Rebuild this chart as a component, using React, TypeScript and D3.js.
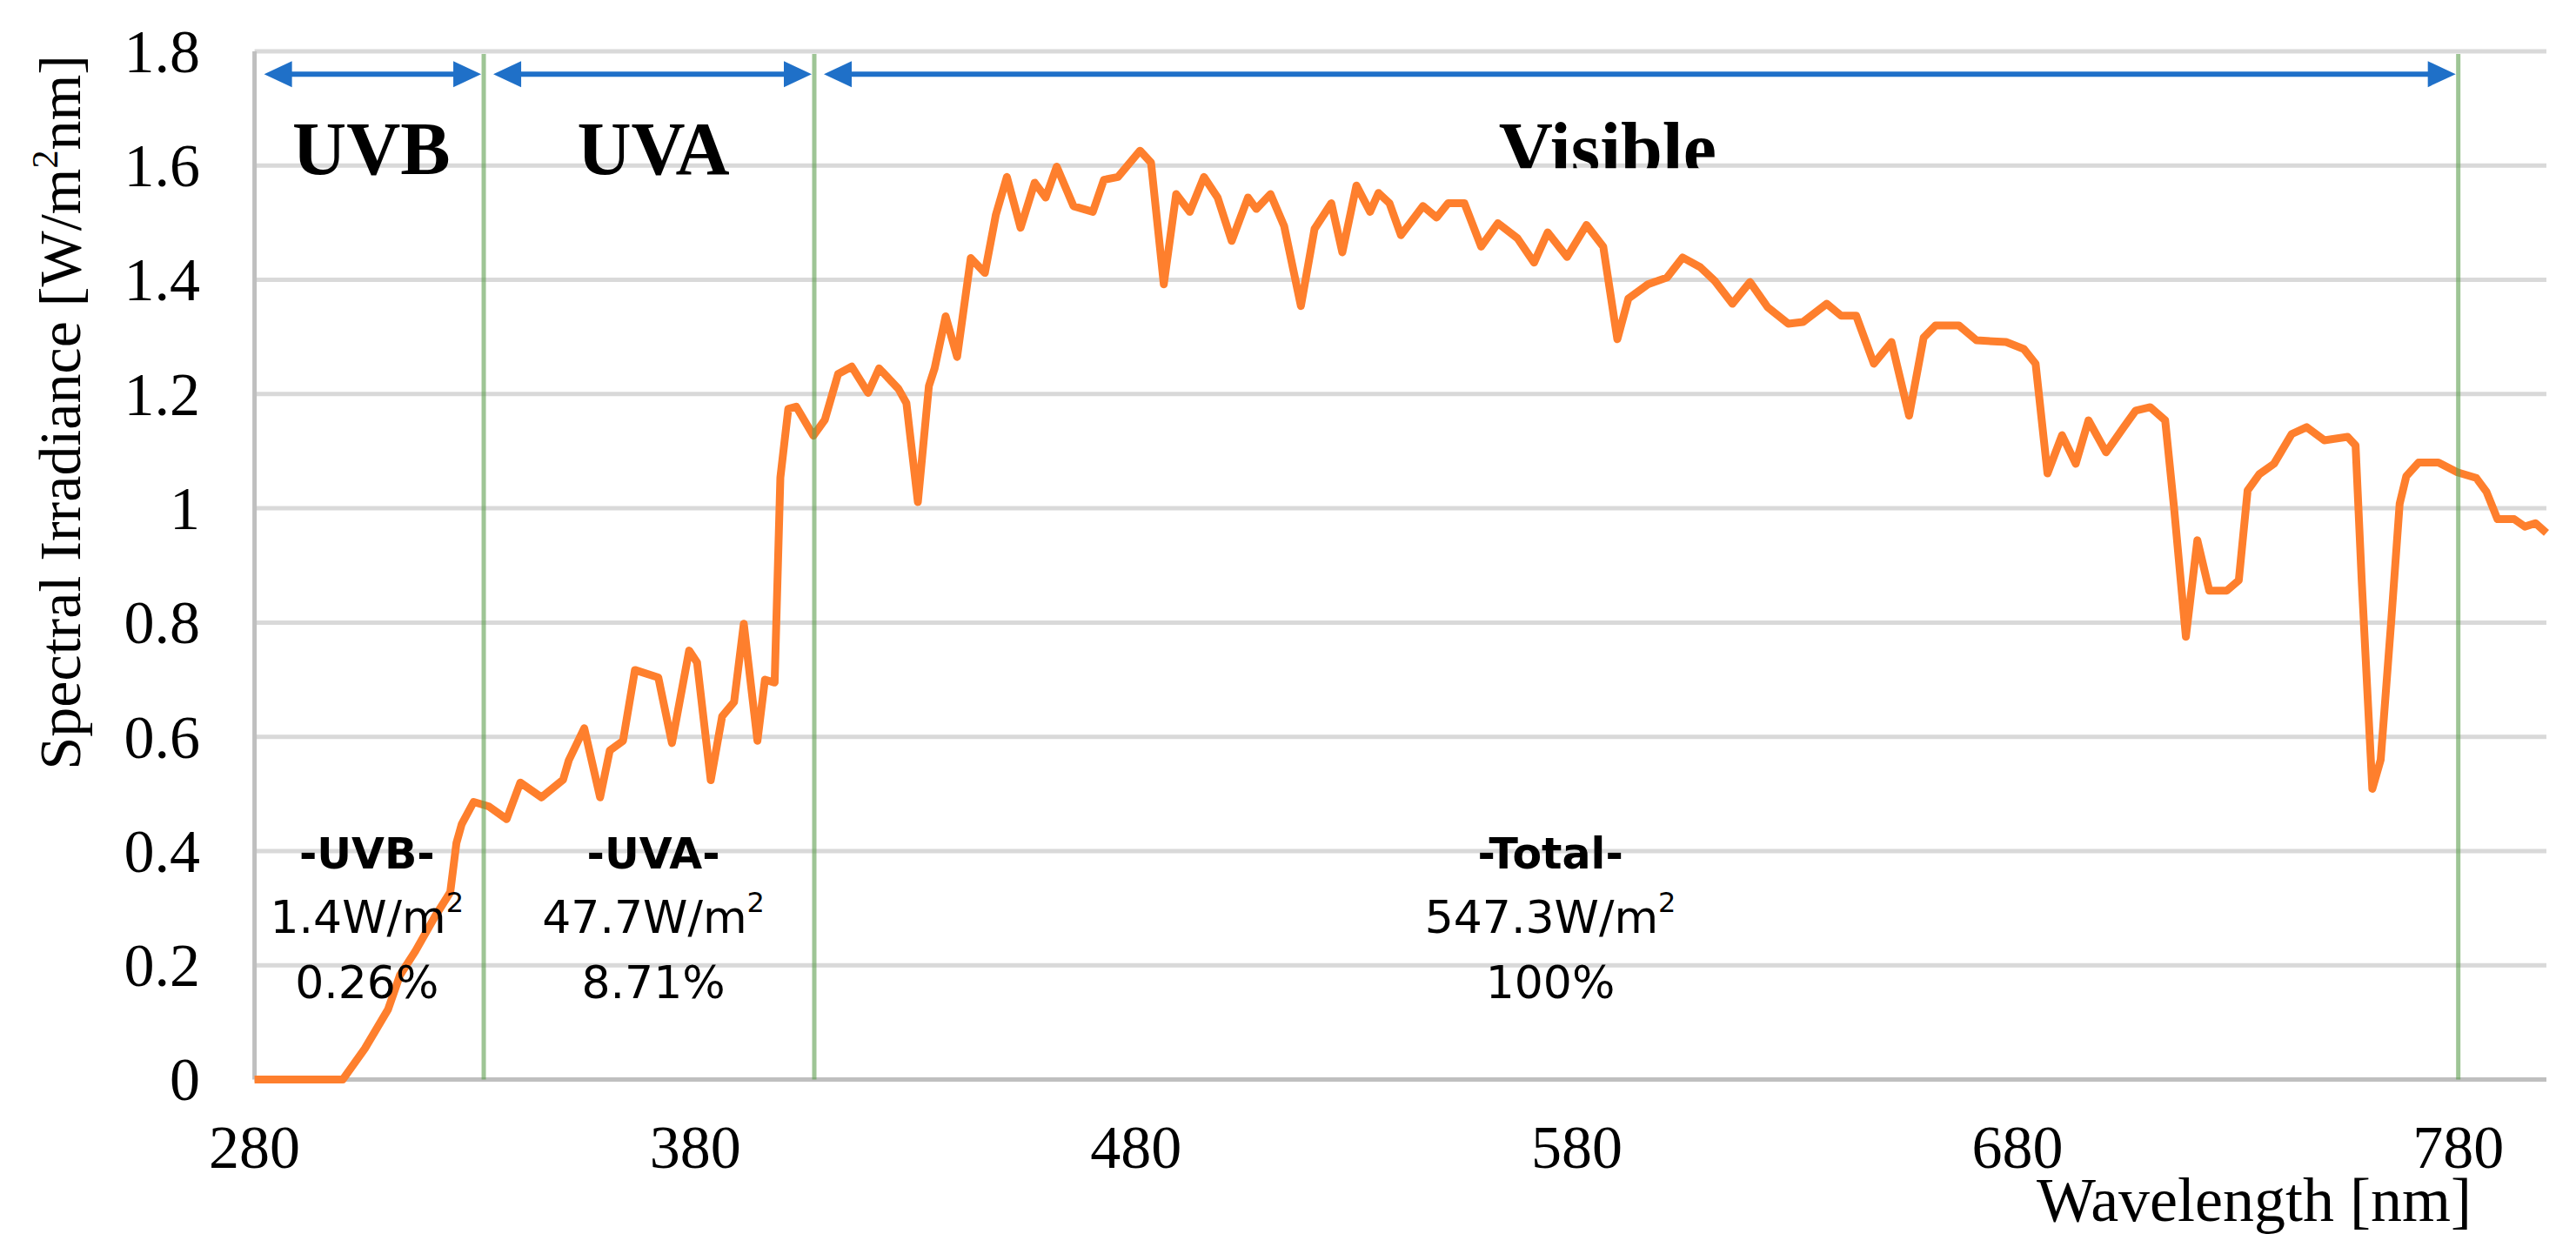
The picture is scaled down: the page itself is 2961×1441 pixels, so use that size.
import * as d3 from "d3"

// spectrum (nm, W/m2nm)
const wavelengths = [
  280, 290, 300, 305, 310.3, 313, 316.5, 320.9, 324.4, 325.8, 327, 329.7, 333.2, 337.2,
  340.3, 345.1, 350, 351.3, 354.8, 358.4, 360.6, 363.6, 366.3, 371.6, 374.7, 378.6,
  380.4, 383.5, 386.1, 388.8, 391, 394.1, 395.8, 398, 399.3, 401.1, 402.9, 406.8,
  409.4, 412.4, 415.5, 419.2, 421.7, 426.1, 427.9, 430.5, 433, 434.3, 436.8, 439.4,
  442.5, 445.7, 448.2, 450.7, 453.8, 457, 459.5, 462, 465.8, 470.2, 472.7, 475.9,
  480.9, 483.4, 486.3, 489.1, 492.2, 495.4, 498.5, 501.7, 505.4, 507.3, 510.5, 513.6,
  517.4, 520.5, 524.3, 526.8, 530, 533.1, 535, 537.5, 540.1, 545.1, 548.2, 550.8,
  554.5, 558.3, 562.1, 566.5, 570.3, 573.4, 577.8, 582.2, 586, 589.2, 591.7, 596.1,
  600.5, 604, 608, 611.3, 615.3, 619.3, 623.3, 628, 631.3, 636.7, 640, 643.4, 647.4,
  651.4, 655.4, 658.7, 661.4, 666.7, 670.7, 677.4, 681.4, 684.1, 686.8, 690.1, 693.2,
  696.1, 700.1, 704.1, 706.8, 710.1, 713.5, 715.5, 718.2, 720.8, 723.5, 727.5, 730.2,
  732.2, 734.9, 738.2, 742.2, 745.6, 749.6, 754.9, 756.7, 758.1, 760.5, 762.4, 764.8,
  766.7, 768.2, 771, 775.5, 779.8, 784.1, 786.4, 788.9, 792.7, 795.1, 797.5, 800,
]
const irradiance = [
  0, 0, 0, 0.054, 0.123, 0.183, 0.225, 0.285, 0.328, 0.414, 0.447, 0.486, 0.478, 0.456,
  0.52, 0.494, 0.525, 0.559, 0.615, 0.494, 0.576, 0.593, 0.717, 0.704, 0.589, 0.751,
  0.73, 0.524, 0.636, 0.661, 0.798, 0.593, 0.7, 0.695, 1.054, 1.174, 1.178, 1.127,
  1.155, 1.235, 1.248, 1.202, 1.245, 1.209, 1.184, 1.011, 1.214, 1.245, 1.336, 1.265,
  1.438, 1.412, 1.514, 1.58, 1.491, 1.57, 1.544, 1.598, 1.529, 1.519, 1.575, 1.58,
  1.626, 1.605, 1.392, 1.55, 1.519, 1.58, 1.544, 1.468, 1.544, 1.524, 1.55, 1.494,
  1.354, 1.489, 1.534, 1.448, 1.565, 1.519, 1.552, 1.534, 1.478, 1.529, 1.509, 1.534,
  1.534, 1.458, 1.499, 1.473, 1.43, 1.483, 1.44, 1.496, 1.458, 1.296, 1.367, 1.392,
  1.404, 1.439, 1.422, 1.398, 1.358, 1.396, 1.352, 1.323, 1.326, 1.358, 1.337, 1.337, 1.253,
  1.291, 1.162, 1.299, 1.32, 1.32, 1.294, 1.291, 1.279, 1.253, 1.061, 1.128, 1.078,
  1.154, 1.098, 1.142, 1.171, 1.177, 1.154, 1.002, 0.775, 0.944, 0.856, 0.856, 0.874,
  1.031, 1.06, 1.078, 1.13, 1.142, 1.119, 1.125, 1.11, 0.872, 0.509, 0.56, 0.804,
  1.008, 1.056, 1.08, 1.08, 1.063, 1.053, 1.029, 0.981, 0.981, 0.968, 0.974, 0.957,
]

const yTicks = [0, 0.2, 0.4, 0.6, 0.8, 1, 1.2, 1.4, 1.6, 1.8]
const xTicks = [280, 380, 480, 580, 680, 780]

const bandNames = ["UVB", "UVA", "Visible"]
const bandEdges = [280, 332, 407, 780]
const bandLabelAt = [306.5, 370.5, 587]

const summaryTitles = ["-UVB-", "-UVA-", "-Total-"]
const summaryPower = ["1.4", "47.7", "547.3"]
const summaryShare = ["0.26%", "8.71%", "100%"]
const summaryAt = [305.5, 370.5, 574]

const W = 2961
const H = 1441
const serif = "'Liberation Serif', 'Times New Roman', serif"
const sans = "'DejaVu Sans', sans-serif"

export default function App() {
  const x = d3.scaleLinear().domain([280, 800]).range([292.6, 2927])
  const y = d3.scaleLinear().domain([0, 1.8]).range([1240.6, 58.9])

  const line = d3
    .line<number>()
    .x((_, i) => x(wavelengths[i]))
    .y((d) => y(d))

  const arrowY = y(1.76)
  const head = 32
  const headH = 15
  const gapL = 11
  const gapR = 3
  const rowY = y(0.4)

  return (
    <svg
      width={W}
      height={H}
      style={{ position: "absolute", left: 0, top: 0, background: "#fff" }}
    >
      <defs>
        <clipPath id="visClip">
          <rect x={0} y={0} width={W} height={y(1.6) + 3} />
        </clipPath>
      </defs>

      {yTicks.map((t) => (
        <line
          key={t}
          x1={x(280)}
          x2={x(800)}
          y1={y(t)}
          y2={y(t)}
          stroke={t === 0 ? "#bfbfbf" : "#d9d9d9"}
          strokeWidth={5}
        />
      ))}
      <line x1={x(280)} x2={x(280)} y1={y(1.8)} y2={y(0)} stroke="#bfbfbf" strokeWidth={5} />

      <path
        d={line(irradiance) || undefined}
        fill="none"
        stroke="#fe7f2d"
        strokeWidth={9}
        strokeLinejoin="round"
      />

      {bandEdges.slice(1).map((e) => (
        <line
          key={e}
          x1={x(e)}
          x2={x(e)}
          y1={y(1.8) + 3}
          y2={y(0)}
          stroke="#5d9e4f"
          strokeOpacity={0.6}
          strokeWidth={5}
        />
      ))}

      {bandNames.map((name, i) => {
        const x1 = x(bandEdges[i]) + gapL
        const x2 = x(bandEdges[i + 1]) - gapR
        return (
          <g key={name} fill="#1f70c8">
            <line x1={x1 + head - 4} x2={x2 - head + 4} y1={arrowY} y2={arrowY} stroke="#1f70c8" strokeWidth={6} />
            <path d={`M${x1},${arrowY} L${x1 + head},${arrowY - headH} L${x1 + head},${arrowY + headH} Z`} />
            <path d={`M${x2},${arrowY} L${x2 - head},${arrowY - headH} L${x2 - head},${arrowY + headH} Z`} />
            <text
              x={x(bandLabelAt[i])}
              y={200}
              textAnchor="middle"
              fontFamily={serif}
              fontWeight="bold"
              fontSize={86}
              fill="#000"
              clipPath={name === "Visible" ? "url(#visClip)" : undefined}
            >
              {name}
            </text>
          </g>
        )
      })}

      {summaryTitles.map((title, i) => (
        <g key={title} fontFamily={sans} textAnchor="middle" fill="#000">
          <text x={x(summaryAt[i])} y={rowY + 20} fontSize={49} fontWeight="bold">
            {title}
          </text>
          <text x={x(summaryAt[i])} y={rowY + 94} fontSize={52}>
            {summaryPower[i]}W/m
            <tspan fontSize={32} dy={-24}>
              2
            </tspan>
          </text>
          <text x={x(summaryAt[i])} y={rowY + 169} fontSize={52}>
            {summaryShare[i]}
          </text>
        </g>
      ))}

      {yTicks.map((t) => (
        <text
          key={t}
          x={230}
          y={y(t)}
          dy="0.34em"
          textAnchor="end"
          fontFamily={serif}
          fontSize={70}
          fill="#000"
        >
          {String(+t.toFixed(1))}
        </text>
      ))}
      {xTicks.map((t) => (
        <text
          key={t}
          x={x(t)}
          y={1342}
          textAnchor="middle"
          fontFamily={serif}
          fontSize={70}
          fill="#000"
        >
          {t}
        </text>
      ))}

      <text
        x={2841}
        y={1403}
        textAnchor="end"
        fontFamily={serif}
        fontSize={72}
        fill="#000"
      >
        Wavelength [nm]
      </text>
      <text
        transform={`translate(92,63) rotate(-90)`}
        textAnchor="end"
        fontFamily={serif}
        fontSize={68}
        fill="#000"
      >
        Spectral Irradiance [W/m
        <tspan fontSize={42} dy={-26}>
          2
        </tspan>
        <tspan dy={26}>nm]</tspan>
      </text>
    </svg>
  )
}
